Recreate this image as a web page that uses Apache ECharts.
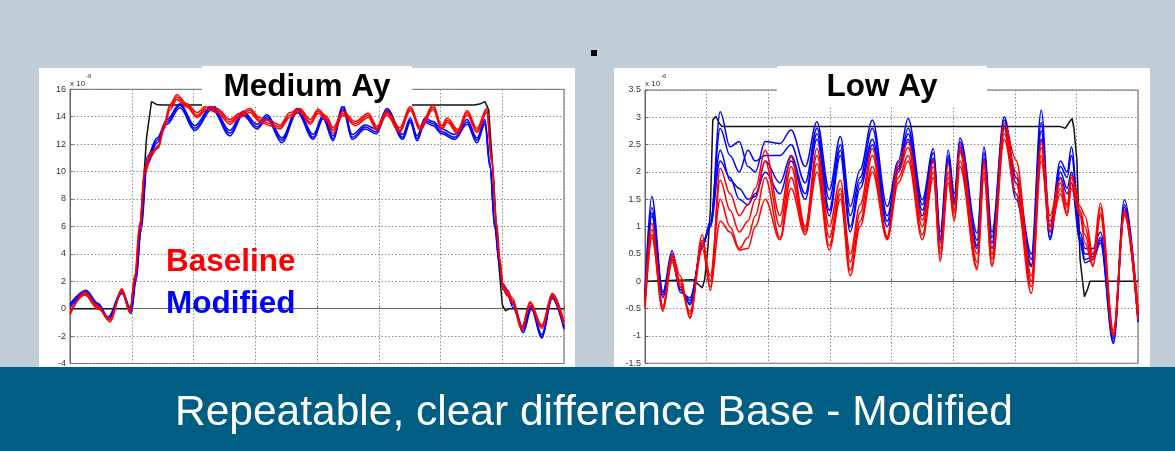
<!DOCTYPE html>
<html><head><meta charset="utf-8">
<script src="https://cdn.jsdelivr.net/npm/echarts@6/dist/echarts.min.js"></script>
<style>html,body{margin:0;padding:0;background:#c1ced8;}#c{width:1175px;height:451px;}</style>
</head><body><div id="c"></div>
<script>
// ---------- LEFT CHART (Medium Ay), x in grid divisions, y in 1e-6 ----------
const leftYTicks = { min: -4, max: 16, interval: 2 };
const rightYTicks = { min: -1.5, max: 3.5, interval: 0.5 };

const leftBlackX = [0, 0.94, 1.0, 1.1, 1.16, 1.24, 1.32, 1.4, 1.5, 6.55, 6.65, 6.72, 6.78, 6.85, 6.93, 7.0, 7.05, 7.12, 8.0];
const leftBlackY = [0, 0, 0.3, 3.5, 7.2, 12.5, 15.1, 14.9, 14.85, 14.85, 14.95, 15.1, 14.5, 10.0, 4.0, 0.3, -0.15, 0.0, 0.0];

const leftRedX = [0,0.24,0.45,0.65,0.84,0.97,1.05,1.13,1.21,1.31,1.43,1.52,1.62,1.73,1.89,2.06,2.22,2.38,2.59,2.75,2.91,3.08,3.24,3.4,3.56,3.72,3.89,4.02,4.15,4.26,4.42,4.62,4.83,4.97,5.13,5.34,5.51,5.67,5.88,6.02,6.11,6.28,6.43,6.59,6.75,6.83,6.91,6.96,7.01,7.08,7.16,7.32,7.45,7.64,7.81,8.0];
const leftRed1 = [-0.34,1.11,0.1,-0.83,1.36,-0.23,2.3,6.0,10.1,11.3,11.8,13.3,14.7,15.44,14.83,14.1,14.7,14.47,13.62,14.1,14.47,13.74,13.5,13.25,14.1,14.5,13.6,14.4,13.9,13.0,14.25,13.5,14.1,13.15,14.25,13.0,14.6,13.15,14.7,13.2,13.74,12.9,14.3,13.0,14.47,10.8,5.97,3.54,1.6,1.11,0.63,-1.44,0.39,-1.32,0.99,-1.07];
const leftRed2 = [-0.2,1.0,0.0,-0.7,1.25,-0.1,2.0,5.6,9.8,11.1,11.9,13.4,14.9,15.6,14.95,14.3,14.85,14.6,13.8,14.25,14.6,13.9,13.7,13.4,14.3,14.6,13.8,14.55,14.05,13.2,14.4,13.65,14.25,13.3,14.4,13.2,14.75,13.3,14.85,13.35,13.9,13.05,14.45,13.15,14.6,11.0,6.2,3.7,1.8,1.3,0.8,-1.3,0.5,-1.2,1.1,-0.95];
const leftRed3 = [-0.45,1.2,0.2,-0.95,1.45,-0.3,2.5,6.3,10.3,11.4,11.7,13.1,14.5,15.25,14.7,13.95,14.55,14.3,13.45,13.95,14.3,13.6,13.35,13.1,13.95,14.35,13.45,14.25,13.75,12.8,14.1,13.35,13.95,13.0,14.1,12.85,14.45,13.0,14.55,13.05,13.6,12.75,14.15,12.85,14.3,10.6,5.8,3.4,1.45,0.95,0.45,-1.55,0.25,-1.45,0.85,-1.2];

const leftBlueX = [0,0.26,0.45,0.62,0.84,0.99,1.07,1.15,1.25,1.41,1.57,1.78,2.02,2.3,2.59,2.8,3.03,3.19,3.43,3.68,3.94,4.1,4.26,4.42,4.57,4.78,4.96,5.13,5.39,5.51,5.62,5.75,5.88,6.02,6.23,6.43,6.59,6.72,6.8,6.88,6.95,7.01,7.09,7.17,7.34,7.47,7.64,7.81,8.0];
const leftBlue1 = [0.26,1.23,0.3,-0.69,1.23,-0.23,2.3,6.0,10.83,12.28,13.62,14.83,13.15,14.7,12.8,14.25,13.25,14.0,12.28,14.47,12.5,14.0,12.4,14.7,12.5,13.25,12.9,14.47,12.5,13.74,12.4,13.74,13.5,12.9,12.5,13.62,12.28,13.62,10.5,6.0,3.5,1.6,1.2,0.3,-1.6,0.1,-2.05,0.9,-1.4];
const leftBlue2 = [0.1,1.1,0.15,-0.8,1.1,-0.35,2.0,5.6,10.5,12.1,13.45,14.65,13.0,14.55,12.6,14.1,13.1,13.85,12.1,14.3,12.35,13.85,12.25,14.55,12.35,13.1,12.75,14.3,12.35,13.6,12.25,13.6,13.35,12.75,12.35,13.45,12.1,13.45,10.3,5.8,3.3,1.4,1.0,0.1,-1.75,-0.05,-2.15,0.75,-1.5];
const leftBlue3 = [0.35,1.35,0.4,-0.6,1.35,-0.1,2.6,6.4,11.1,12.45,13.8,14.95,13.35,14.85,13.0,14.4,13.45,14.15,12.45,14.6,12.7,14.15,12.6,14.85,12.7,13.4,13.1,14.6,12.7,13.9,12.6,13.9,13.65,13.1,12.7,13.8,12.45,13.8,10.7,6.2,3.7,1.8,1.35,0.45,-1.45,0.25,-1.9,1.05,-1.3];

// ---------- RIGHT CHART (Low Ay) ----------
const rightBlackX = [0, 0.78, 0.86, 0.93, 0.97, 1.02, 1.06, 1.1, 1.15, 1.2, 1.25, 6.74, 6.82, 6.88, 6.93, 6.96, 7.01, 7.06, 7.13, 7.18, 7.22, 8.0];
const rightBlackY = [0, 0.03, -0.05, -0.12, 0.05, 0.6, 1.3, 2.95, 3.02, 2.9, 2.83, 2.83, 2.8, 2.9, 2.98, 2.8, 2.2, 0.4, -0.28, -0.15, 0.0, 0.0];

const rightX = [0,0.11,0.29,0.44,0.57,0.73,0.93,1.06,1.22,1.38,1.53,1.67,1.79,1.95,2.19,2.37,2.6,2.79,2.99,3.17,3.33,3.49,3.69,3.93,4.11,4.27,4.5,4.68,4.79,4.92,5.02,5.11,5.39,5.5,5.63,5.83,6.02,6.27,6.43,6.57,6.74,6.85,6.92,7.06,7.14,7.27,7.39,7.6,7.78,8.0];
const rightRed1 = [-0.3,1.06,-0.45,0.5,0.1,-0.68,0.85,-0.17,2.07,1.6,1.2,1.4,1.7,2.4,1.2,2.28,1.0,2.43,1.0,1.85,0.5,1.4,2.43,0.82,2.16,2.55,1.12,2.22,0.6,2.16,1.3,2.49,0.5,2.22,0.5,2.89,2.22,0.1,2.56,1.2,1.88,1.4,1.95,1.37,1.2,0.5,1.43,-0.9,1.3,-0.5];
const rightRed2 = [-0.4,0.95,-0.5,0.45,0.0,-0.65,0.75,0.0,1.85,1.3,0.9,1.1,1.5,2.2,1.0,2.1,0.95,2.3,0.8,1.7,0.35,1.25,2.3,0.8,2.0,2.45,1.0,2.1,0.5,2.0,1.25,2.35,0.35,2.1,0.4,2.8,2.0,0.0,2.45,1.1,1.8,1.35,1.9,1.3,1.0,0.4,1.35,-0.95,1.27,-0.55];
const rightRed3 = [-0.45,0.85,-0.55,0.4,-0.05,-0.6,0.7,0.1,1.5,1.0,0.6,0.8,1.2,1.9,0.8,1.9,0.9,2.15,0.65,1.6,0.2,1.1,2.1,0.78,1.9,2.3,0.85,2.0,0.4,1.9,1.15,2.2,0.25,2.0,0.3,2.7,1.8,-0.1,2.3,1.0,1.7,1.25,1.8,1.25,0.85,0.3,1.25,-1.0,1.23,-0.65];
const rightRed4 = [-0.5,0.8,-0.5,0.35,-0.1,-0.55,0.6,-0.1,1.1,0.9,0.57,0.6,1.0,1.5,0.76,1.7,0.85,2.0,0.57,1.5,0.1,1.0,2.0,0.76,1.8,2.2,0.76,1.9,0.36,1.8,1.1,2.1,0.21,1.9,0.27,2.6,1.6,-0.22,2.2,0.9,1.6,1.2,1.7,1.2,0.7,0.27,1.2,-1.0,1.2,-0.7];
const rightBlue1 = [-0.2,1.55,-0.2,0.56,-0.1,-0.43,0.7,1.0,3.1,2.46,2.56,2.1,2.0,2.56,2.52,2.77,2.1,2.92,1.67,2.65,1.37,2.04,2.95,1.37,2.2,2.98,1.49,2.43,0.9,2.4,1.6,2.62,0.88,2.46,0.9,3.01,1.9,0.5,3.13,1.0,2.2,2.0,2.46,0.9,0.6,0.6,0.9,-1.0,1.49,-0.6];
const rightBlue2 = [-0.25,1.35,-0.25,0.5,-0.15,-0.35,0.65,1.05,2.8,2.3,2.0,2.4,2.2,2.3,2.3,2.5,1.8,2.8,1.5,2.5,1.2,1.9,2.8,1.2,2.1,2.8,1.4,2.35,0.8,2.3,1.5,2.55,0.75,2.35,0.8,2.95,1.8,0.4,2.9,0.9,2.1,1.9,2.3,0.8,0.5,0.5,0.8,-1.05,1.4,-0.65];
const rightBlue3 = [-0.3,1.25,-0.3,0.45,-0.2,-0.3,0.6,1.1,2.4,1.85,1.7,1.5,1.55,2.2,1.8,2.3,1.6,2.7,1.3,2.4,1.0,1.8,2.6,1.1,2.05,2.7,1.3,2.25,0.75,2.25,1.45,2.45,0.65,2.25,0.7,2.85,1.6,0.3,2.75,0.8,2.0,1.7,2.0,0.75,0.4,0.45,0.75,-1.1,1.35,-0.7];
const rightBlue4 = [-0.35,1.2,-0.2,0.4,-0.15,-0.4,0.65,1.0,2.2,1.9,1.5,1.4,1.6,2.0,1.6,2.2,1.5,2.6,1.2,2.3,0.9,1.7,2.5,1.0,2.0,2.6,1.2,2.2,0.7,2.2,1.4,2.4,0.6,2.2,0.6,2.8,1.5,0.27,2.6,0.76,1.9,1.6,1.8,0.7,0.34,0.4,0.7,-1.14,1.3,-0.75];

// ---------- texts ----------
const leftTitle = 'Medium Ay';
const rightTitle = 'Low Ay';
const legendRed = 'Baseline';
const legendBlue = 'Modified';
const bannerText = 'Repeatable, clear difference Base - Modified';

const FONT = '"Liberation Sans", Arial, sans-serif';
const RED = '#ff0000', BLUE = '#0000ff', BLACK = '#111111';

function zip(xs, ys) { return xs.map((x, i) => [x, ys[i]]); }
function line(data, color, width, gi, smooth) {
  return { type: 'line', data: data, xAxisIndex: gi, yAxisIndex: gi, showSymbol: false, symbol: 'none',
    smooth: smooth, smoothMonotone: 'x', lineStyle: { color: color, width: width }, silent: true, animation: false };
}
function xAx(gi) {
  return { type: 'value', gridIndex: gi, min: 0, max: 8, interval: 1,
    axisLine: { show: true, lineStyle: { color: '#666', width: 1 } },
    axisTick: { show: true, inside: true, length: 3, lineStyle: { color: '#666' } },
    axisLabel: { show: false },
    splitLine: { show: true, lineStyle: { color: '#8a8a8a', type: [1.5, 2], width: 1 } } };
}
function yAx(gi, t) {
  return { type: 'value', gridIndex: gi, min: t.min, max: t.max, interval: t.interval,
    axisLine: { show: true, lineStyle: { color: '#666', width: 1 } },
    axisTick: { show: true, inside: true, length: 3, lineStyle: { color: '#666' } },
    axisLabel: { show: true, fontSize: 9, color: '#333', fontFamily: FONT, margin: 4 },
    splitLine: { show: true, lineStyle: { color: '#8a8a8a', type: [1.5, 2], width: 1 } } };
}

const series = [
  line(zip(leftBlackX, leftBlackY), BLACK, 1.5, 0, false),
  line(zip(leftBlueX, leftBlue1), BLUE, 1.5, 0, 0.35),
  line(zip(leftBlueX, leftBlue2), BLUE, 1.5, 0, 0.35),
  line(zip(leftBlueX, leftBlue3), BLUE, 1.5, 0, 0.35),
  line(zip(leftRedX, leftRed1), RED, 1.5, 0, 0.35),
  line(zip(leftRedX, leftRed2), RED, 1.5, 0, 0.35),
  line(zip(leftRedX, leftRed3), RED, 1.5, 0, 0.35),
  line(zip(rightBlackX, rightBlackY), BLACK, 1.5, 1, false),
  line(zip(rightX, rightBlue1), BLUE, 1.5, 1, 0.35),
  line(zip(rightX, rightBlue2), BLUE, 1.5, 1, 0.35),
  line(zip(rightX, rightBlue3), BLUE, 1.5, 1, 0.35),
  line(zip(rightX, rightBlue4), BLUE, 1.5, 1, 0.35),
  line(zip(rightX, rightRed1), RED, 1.5, 1, 0.35),
  line(zip(rightX, rightRed2), RED, 1.5, 1, 0.35),
  line(zip(rightX, rightRed3), RED, 1.5, 1, 0.35),
  line(zip(rightX, rightRed4), RED, 1.5, 1, 0.35)
];

function txt(text, x, y, font, fill, align, z) {
  return { type: 'text', z: z, silent: true, style: { text: text, x: x, y: y, font: font, fill: fill, textAlign: align, textVerticalAlign: 'middle' } };
}
function rect(x, y, w, h, fill, z) {
  return { type: 'rect', z: z, silent: true, shape: { x: x, y: y, width: w, height: h }, style: { fill: fill } };
}

const graphics = [
  rect(39, 68, 536, 300, '#ffffff', -10),
  rect(614, 68, 536, 300, '#ffffff', -10),
  rect(591, 50, 6, 6, '#000000', 50),
  rect(202, 66, 210, 40, '#ffffff', 100),
  txt(leftTitle, 307, 87, 'bold 31.5px ' + FONT, '#000', 'center', 101),
  rect(777, 66, 210, 40, '#ffffff', 100),
  txt(rightTitle, 882, 87, 'bold 31.5px ' + FONT, '#000', 'center', 101),
  txt(legendRed, 166, 262, 'bold 31.5px ' + FONT, RED, 'left', 101),
  txt(legendBlue, 166, 304, 'bold 31.5px ' + FONT, BLUE, 'left', 101),
  txt('x 10', 70, 84, '8px ' + FONT, '#333', 'left', 60),
  txt('-6', 86, 76, '6px ' + FONT, '#333', 'left', 60),
  txt('x 10', 645, 84, '8px ' + FONT, '#333', 'left', 60),
  txt('-6', 661, 76, '6px ' + FONT, '#333', 'left', 60),
  rect(0, 367, 1175, 84, '#005e85', 200),
  txt(bannerText, 175, 413, '42.5px ' + FONT, '#ffffff', 'left', 201)
];

const chart = echarts.init(document.getElementById('c'), null, { renderer: 'canvas' });
chart.setOption({
  backgroundColor: '#c1ced8',
  animation: false,
  grid: [
    { left: 70, top: 89.3, width: 494, height: 274.2, show: true, borderColor: '#666', borderWidth: 1, backgroundColor: 'transparent' },
    { left: 645, top: 90, width: 493, height: 273.3, show: true, borderColor: '#666', borderWidth: 1, backgroundColor: 'transparent' }
  ],
  xAxis: [xAx(0), xAx(1)],
  yAxis: [yAx(0, leftYTicks), yAx(1, rightYTicks)],
  series: series,
  graphic: { elements: graphics }
});
</script>
</body></html>
